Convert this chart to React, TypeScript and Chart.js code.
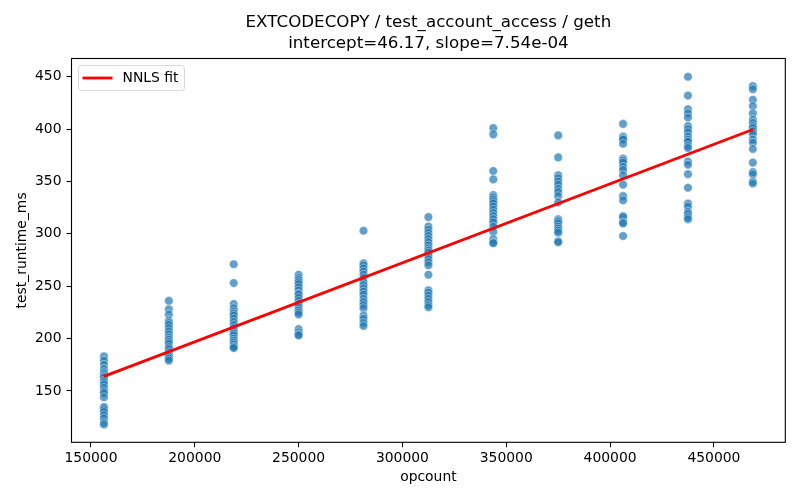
import { useEffect, useRef } from 'react';
import { Chart, registerables } from 'chart.js';

Chart.register(...registerables);

// opcount groups on the x axis
const OPCOUNTS = [156250, 187500, 218750, 250000, 281250, 312500, 343750, 375000, 406250, 437500, 468750];

// measured runtimes (ms) per opcount group
const RUNTIME_156K = [183, 179, 175, 171, 168, 166, 164, 163, 160, 158, 156, 153, 150, 148, 144, 135, 134, 132, 130, 127, 124, 120, 118];
const RUNTIME_188K = [236, 228, 223, 217, 215, 213, 210, 207, 204, 201, 199, 197, 195, 192, 190, 187, 185, 183, 181, 179];
const RUNTIME_219K = [271, 253, 233, 229, 226, 224, 222, 219, 216, 213, 210, 207, 205, 203, 200, 198, 196, 194, 192, 191];
const RUNTIME_250K = [261, 258, 256, 254, 252, 249, 246, 243, 242, 239, 236, 233, 230, 227, 225, 223, 209, 206, 204, 203];
const RUNTIME_281K = [303, 272, 270, 267, 264, 261, 258, 254, 251, 248, 245, 242, 238, 235, 232, 229, 222, 219, 215, 212];
const RUNTIME_313K = [316, 307, 304, 301, 298, 295, 292, 289, 286, 284, 282, 279, 276, 273, 270, 261, 246, 244, 241, 238, 235, 232, 230];
const RUNTIME_344K = [401, 395, 360, 352, 337, 335, 333, 331, 329, 326, 323, 320, 317, 314, 311, 307, 302, 295, 292, 291];
const RUNTIME_375K = [394, 373, 356, 353, 350, 347, 343, 340, 336, 330, 314, 312, 310, 307, 305, 303, 301, 293, 292];
const RUNTIME_406K = [405, 393, 391, 390, 386, 372, 370, 368, 364, 361, 356, 347, 336, 332, 317, 316, 311, 310, 298];
const RUNTIME_438K = [450, 432, 419, 415, 411, 403, 400, 397, 393, 390, 388, 384, 382, 369, 366, 357, 344, 329, 326, 321, 319, 316, 314];
const RUNTIME_469K = [441, 438, 428, 422, 415, 409, 406, 403, 401, 398, 395, 390, 387, 381, 368, 359, 357, 350, 348];

const RUNTIMES = [
  RUNTIME_156K, RUNTIME_188K, RUNTIME_219K, RUNTIME_250K, RUNTIME_281K, RUNTIME_313K,
  RUNTIME_344K, RUNTIME_375K, RUNTIME_406K, RUNTIME_438K, RUNTIME_469K,
];

// NNLS fit from the title
const INTERCEPT = 46.17;
const SLOPE = 7.54e-4;
const FIT_X = [156250, 468750];

const X_TICKS = [150000, 200000, 250000, 300000, 350000, 400000, 450000];
const Y_TICKS = [150, 200, 250, 300, 350, 400, 450];

const TITLE_LINES = ['EXTCODECOPY / test_account_access / geth', 'intercept=46.17, slope=7.54e-04'];

const FONT = 'DejaVu Sans';

// matplotlib-style title over the axes, full frame, and the legend box in the upper left
const frameAndLegend = {
  id: 'frameAndLegend',
  afterDraw(chart: Chart) {
    const { ctx, chartArea } = chart;
    ctx.save();
    ctx.strokeStyle = '#000';
    ctx.lineWidth = 1.1;
    ctx.strokeRect(chartArea.left, chartArea.top, chartArea.right - chartArea.left, chartArea.bottom - chartArea.top);

    ctx.fillStyle = '#000';
    ctx.font = `16.7px "${FONT}"`;
    ctx.textAlign = 'center';
    ctx.textBaseline = 'middle';
    const cx = (chartArea.left + chartArea.right) / 2;
    TITLE_LINES.forEach((line, i) => ctx.fillText(line, cx, 22.5 + i * 20.8));

    const bx = chartArea.left + 7;
    const by = chartArea.top + 7;
    const bw = 106;
    const bh = 25;
    ctx.beginPath();
    ctx.roundRect(bx, by, bw, bh, 3);
    ctx.fillStyle = 'rgba(255,255,255,0.8)';
    ctx.fill();
    ctx.strokeStyle = '#d9d9d9';
    ctx.lineWidth = 1;
    ctx.stroke();

    ctx.beginPath();
    ctx.moveTo(bx + 4, by + bh / 2);
    ctx.lineTo(bx + 34, by + bh / 2);
    ctx.strokeStyle = 'red';
    ctx.lineWidth = 2.8;
    ctx.stroke();

    ctx.fillStyle = '#000';
    ctx.font = `13.9px "${FONT}"`;
    ctx.textAlign = 'left';
    ctx.textBaseline = 'middle';
    ctx.fillText('NNLS fit', bx + 44, by + bh / 2 + 0.5);
    ctx.restore();
  },
};

export default function App() {
  const canvasRef = useRef<HTMLCanvasElement>(null);
  const chartRef = useRef<Chart | null>(null);

  useEffect(() => {
    if (!canvasRef.current) return;
    if (chartRef.current) chartRef.current.destroy();

    const points = OPCOUNTS.flatMap((x, i) => RUNTIMES[i].map((y) => ({ x, y })));
    const fit = FIT_X.map((x) => ({ x, y: INTERCEPT + SLOPE * x }));

    chartRef.current = new Chart(canvasRef.current, {
      type: 'scatter',
      data: {
        datasets: [
          {
            type: 'line',
            label: 'NNLS fit',
            data: fit,
            borderColor: 'red',
            borderWidth: 2.8,
            pointRadius: 0,
            showLine: true,
            order: 0,
          },
          {
            label: 'runs',
            data: points,
            backgroundColor: 'rgba(31,119,180,0.7)',
            borderColor: 'rgba(255,255,255,0.7)',
            borderWidth: 0.6,
            pointRadius: 4.3,
            order: 1,
          },
        ],
      },
      options: {
        animation: false,
        responsive: false,
        layout: { padding: { left: 0, right: 14.7, top: 58.5, bottom: 0 } },
        plugins: {
          legend: { display: false },
          tooltip: { enabled: false },
          title: { display: false },
        },
        scales: {
          x: {
            type: 'linear',
            min: 140625,
            max: 484375,
            afterBuildTicks: (scale) => {
              scale.ticks = X_TICKS.map((value) => ({ value }));
            },
            afterFit: (scale) => {
              scale.height = 57.7;
            },
            grid: { drawOnChartArea: false, drawTicks: true, tickLength: 5, color: '#000', tickWidth: 1.1 },
            border: { display: false },
            ticks: {
              color: '#000',
              font: { family: FONT, size: 13.9 },
              padding: 3,
              maxRotation: 0,
              callback: (value) => String(value),
            },
            title: {
              display: true,
              text: 'opcount',
              color: '#000',
              font: { family: FONT, size: 13.9 },
              padding: { top: 0, bottom: 14.7 },
            },
          },
          y: {
            type: 'linear',
            min: 101,
            max: 467.4,
            afterBuildTicks: (scale) => {
              scale.ticks = Y_TICKS.map((value) => ({ value }));
            },
            afterFit: (scale) => {
              scale.width = 71.5;
            },
            grid: { drawOnChartArea: false, drawTicks: true, tickLength: 5, color: '#000', tickWidth: 1.1 },
            border: { display: false },
            ticks: {
              color: '#000',
              font: { family: FONT, size: 13.9 },
              padding: 5,
              callback: (value) => String(value),
            },
            title: {
              display: true,
              text: 'test_runtime_ms',
              color: '#000',
              font: { family: FONT, size: 13.9 },
              padding: { top: 13.7, bottom: 0 },
            },
          },
        },
      },
      plugins: [frameAndLegend],
    });

    return () => {
      if (chartRef.current) {
        chartRef.current.destroy();
        chartRef.current = null;
      }
    };
  }, []);

  return (
    <div style={{ position: 'absolute', left: 0, top: 0, width: 800, height: 500, background: '#fff' }}>
      <canvas ref={canvasRef} width={800} height={500} style={{ display: 'block' }}></canvas>
    </div>
  );
}
